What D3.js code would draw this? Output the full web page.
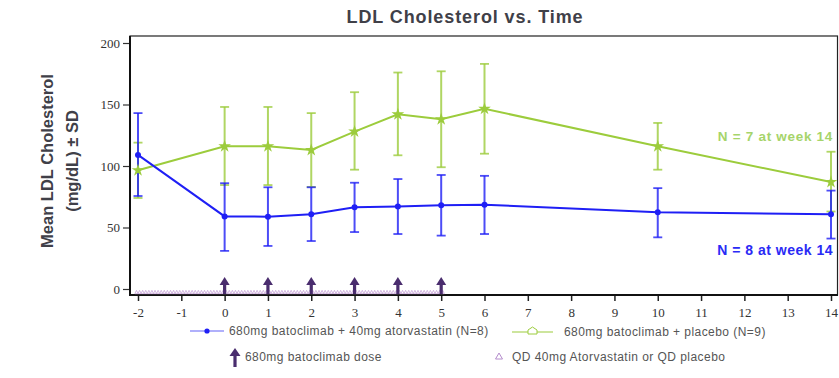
<!DOCTYPE html>
<html><head><meta charset="utf-8">
<script src="https://cdn.jsdelivr.net/npm/d3@7"></script>
<style>body{margin:0;background:#fff;} svg{display:block;}</style>
</head><body>
<svg id="c" width="839" height="378"></svg>
<script>
// ---- data ----
const weeks = [-2, 0, 1, 2, 3, 4, 5, 6, 10, 14];
const atorMean = [109, 59, 58.8, 60.7, 66.4, 67, 68, 68.5, 62.3, 60.7];
const atorUpper = [143, 86, 82.7, 82.7, 86.4, 89.4, 92.7, 92, 82, 80];
const atorLower = [75.6, 31, 35, 39, 46.3, 44.7, 43.4, 44.7, 42, 41];
const placMean = [96.5, 116, 116, 113, 128, 142, 138, 146.5, 116, 87];
const placUpper = [119, 148, 148, 143, 160, 176, 177, 183, 135, 111.6];
const placLower = [74, 84.5, 84.5, 83, 97, 108.7, 99, 110, 97, 63];
const doseWeeks = [0, 1, 2, 3, 4, 5];
const xTicks = [-2, -1, 0, 1, 2, 3, 4, 5, 6, 7, 8, 9, 10, 11, 12, 13, 14];
const yTicks = [0, 50, 100, 150, 200];
// once-daily oral dosing from week -2 through week 5 (both arms)
const qdDays = d3.range(-14, 36);

const blue = "#1f1ff5", green = "#9ccc3c", purple = "#4a2d6e", tri = "#c9a6d9";
const svg = d3.select("#c");
const x = d3.scaleLinear().domain([-2, 14]).range([138, 831]);
const y = d3.scaleLinear().domain([0, 200]).range([289, 43]);
const sans = "'Liberation Sans', Arial, sans-serif";
const serif = "'Liberation Serif', 'Times New Roman', serif";

// title
svg.append("text").attr("x", 465).attr("y", 23).attr("text-anchor", "middle")
  .attr("font-family", sans).attr("font-weight", "bold").attr("letter-spacing", 0.9)
  .attr("font-size", 18).attr("fill", "#404048").text("LDL Cholesterol vs. Time");

// y title
const yt = svg.append("text").attr("transform", "translate(0,161) rotate(-90)")
  .attr("text-anchor", "middle").attr("font-family", sans)
  .attr("font-weight", "bold").attr("font-size", 16.5).attr("fill", "#404048");
yt.append("tspan").attr("x", 0).attr("y", 53).text("Mean LDL Cholesterol");
yt.append("tspan").attr("x", 0).attr("y", 78).text("(mg/dL) ± SD");

// frame
svg.append("rect").attr("x", 130).attr("y", 36).attr("width", 707.5).attr("height", 259)
  .attr("fill", "none").attr("stroke", "#222").attr("stroke-width", 1.2);
svg.append("line").attr("x1", 130).attr("x2", 130).attr("y1", 36).attr("y2", 295.5)
  .attr("stroke", "#111").attr("stroke-width", 2);
svg.append("line").attr("x1", 129).attr("x2", 838).attr("y1", 295).attr("y2", 295)
  .attr("stroke", "#111").attr("stroke-width", 2);

// axes
const ya = svg.append("g").attr("transform", "translate(129,0)")
  .call(d3.axisLeft(y).tickValues(yTicks).tickSize(6).tickPadding(3).tickFormat(d => String(d)));
ya.attr("font-family", serif).attr("font-size", 13);
ya.select(".domain").remove();
ya.selectAll("text").attr("fill", "#333");
ya.selectAll("line").attr("stroke", "#333").attr("stroke-width", 1.2);
const xa = svg.append("g").attr("transform", "translate(0,296)")
  .call(d3.axisBottom(x).tickValues(xTicks).tickSize(5).tickPadding(7).tickFormat(d => String(d)));
xa.attr("font-family", serif).attr("font-size", 13);
xa.select(".domain").remove();
xa.selectAll("text").attr("fill", "#333");
xa.selectAll("line").attr("stroke", "#222").attr("stroke-width", 1.5);

// QD triangles
const triPath = "M0,-2.2L1.6,1.2L-1.6,1.2Z";
[-0.25, 0.25].forEach(off => {
  svg.append("g").selectAll("path").data(qdDays).join("path")
    .attr("d", triPath)
    .attr("transform", d => `translate(${x((d + off) / 7)},292.5)`)
    .attr("fill", "none").attr("stroke", tri).attr("stroke-width", 0.8);
});

// dose arrows
function arrow(g, cx, base, top, hw) {
  g.append("path").attr("d",
    `M${cx-1.6},${base}L${cx-1.6},${top+8}L${cx-hw},${top+8}L${cx},${top}L${cx+hw},${top+8}L${cx+1.6},${top+8}L${cx+1.6},${base}Z`)
    .attr("fill", purple);
}
const ag = svg.append("g");
doseWeeks.forEach(w => arrow(ag, x(w), 294, 277, 5));

// error bars
function errBars(means, up, lo, col) {
  const g = svg.append("g").attr("stroke", col).attr("fill", "none");
  weeks.forEach((w, i) => {
    const cx = x(w);
    g.append("line").attr("x1", cx).attr("x2", cx).attr("y1", y(up[i])).attr("y2", y(lo[i]))
      .attr("stroke-width", 2).attr("stroke-opacity", 0.8);
    [up[i], lo[i]].forEach(v => g.append("line").attr("x1", cx - 4.5).attr("x2", cx + 4.5)
      .attr("y1", y(v)).attr("y2", y(v)).attr("stroke-width", 1.8).attr("stroke-opacity", 0.8));
  });
}
errBars(placMean, placUpper, placLower, green);
errBars(atorMean, atorUpper, atorLower, blue);

const line = d3.line().x((d, i) => x(weeks[i])).y(d => y(d));
svg.append("path").datum(placMean).attr("d", line).attr("fill", "none")
  .attr("stroke", green).attr("stroke-width", 2);
svg.append("path").datum(atorMean).attr("d", line).attr("fill", "none")
  .attr("stroke", blue).attr("stroke-width", 2);

const star = d3.symbol().type(d3.symbolStar).size(50);
svg.append("g").selectAll("path").data(placMean).join("path")
  .attr("d", star).attr("transform", (d, i) => `translate(${x(weeks[i])},${y(d)})`)
  .attr("fill", green);
svg.append("g").selectAll("circle").data(atorMean).join("circle")
  .attr("cx", (d, i) => x(weeks[i])).attr("cy", d => y(d)).attr("r", 3).attr("fill", blue);

// N labels
svg.append("text").attr("x", 833).attr("y", 141).attr("text-anchor", "end")
  .attr("font-family", sans).attr("font-weight", "bold").attr("letter-spacing", 0.7)
  .attr("font-size", 13.5).attr("fill", "#a6d46a").text("N = 7 at week 14");
svg.append("text").attr("x", 833).attr("y", 255).attr("text-anchor", "end")
  .attr("font-family", sans).attr("font-weight", "bold").attr("letter-spacing", 0.5)
  .attr("font-size", 14).attr("fill", "#2a2af5").text("N = 8 at week 14");

// legend
const lg = svg.append("g");
lg.append("line").attr("x1", 190).attr("x2", 224).attr("y1", 331).attr("y2", 331)
  .attr("stroke", blue).attr("stroke-width", 1.2).attr("stroke-opacity", 0.7);
lg.append("circle").attr("cx", 207).attr("cy", 331).attr("r", 2.6).attr("fill", blue);
const lt = (xx, yy, s) => lg.append("text").attr("x", xx).attr("y", yy)
  .attr("font-family", sans).attr("font-size", 12).attr("letter-spacing", 0.45)
  .attr("fill", "#555").text(s);
lt(229, 335, "680mg batoclimab + 40mg atorvastatin (N=8)");
lg.append("line").attr("x1", 512).attr("x2", 553).attr("y1", 332).attr("y2", 332)
  .attr("stroke", green).attr("stroke-width", 1.2);
lg.append("path").attr("d", "M528,334L528,330L532.5,327L537,330L537,334Z")
  .attr("fill", "#fff").attr("stroke", green).attr("stroke-width", 1);
lt(564, 336, "680mg batoclimab + placebo (N=9)");
arrow(lg, 235, 367, 348, 5.5);
lt(245, 361, "680mg batoclimab dose");
lg.append("path").attr("d", "M499,353L502.5,359L495.5,359Z").attr("fill", "none")
  .attr("stroke", "#b48ccc").attr("stroke-width", 1);
lt(512, 361, "QD 40mg Atorvastatin or QD placebo");
</script>
</body></html>
